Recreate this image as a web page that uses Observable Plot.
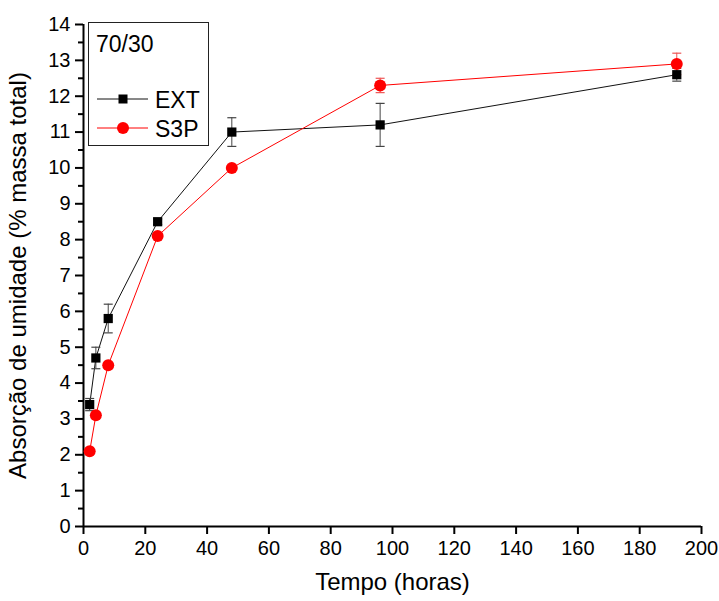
<!DOCTYPE html>
<html>
<head>
<meta charset="utf-8">
<script src="https://cdn.jsdelivr.net/npm/d3@7"></script>
<script src="https://cdn.jsdelivr.net/npm/@observablehq/plot@0.6"></script>
<style>
  body { margin: 0; background: #fff; }
  #wrap { position: relative; width: 719px; height: 601px; }
  #legend { position: absolute; left: 88px; top: 22px; }
</style>
</head>
<body>
<div id="wrap"></div>
<script>
const hours = [2, 4, 8, 24, 48, 96, 192];
const extValues = [3.4, 4.7, 5.8, 8.5, 11.0, 11.2, 12.6];
const extErrors = [0.17, 0.3, 0.4, 0.08, 0.4, 0.6, 0.18];
const s3pValues = [2.1, 3.1, 4.5, 8.1, 10.0, 12.3, 12.9];
const s3pErrors = [0.05, 0.05, 0.05, 0.05, 0.05, 0.2, 0.3];
const xTicks = [0, 20, 40, 60, 80, 100, 120, 140, 160, 180, 200];
const yTicks = [0, 1, 2, 3, 4, 5, 6, 7, 8, 9, 10, 11, 12, 13, 14];
const seriesNames = ["EXT", "S3P"];
const legendTitle = "70/30";
const xLabel = "Tempo (horas)";
const yLabel = "Absorção de umidade (% massa total)";

const ext = hours.map((h, i) => ({x: h, y: extValues[i], e: extErrors[i]}));
const s3p = hours.map((h, i) => ({x: h, y: s3pValues[i], e: s3pErrors[i]}));
const yMinor = d3.range(0.5, 14, 1);

const cap = { draw(ctx) { ctx.moveTo(-4.5, 0); ctx.lineTo(4.5, 0); } };
const font = "'Liberation Sans', Arial, sans-serif";

function errorMarks(data, color) {
  return [
    Plot.ruleX(data, {x: "x", y1: d => d.y - d.e, y2: d => d.y + d.e, stroke: color, strokeWidth: 1}),
    Plot.dot(data, {x: "x", y: d => d.y + d.e, symbol: cap, stroke: color, strokeWidth: 1.2, r: 3}),
    Plot.dot(data, {x: "x", y: d => d.y - d.e, symbol: cap, stroke: color, strokeWidth: 1.2, r: 3})
  ];
}

const chart = Plot.plot({
  width: 719,
  height: 601,
  marginLeft: 83,
  marginRight: 18,
  marginTop: 24,
  marginBottom: 75,
  style: {fontFamily: font, background: "#fff", color: "#000"},
  x: {domain: [0, 200]},
  y: {domain: [0, 14]},
  marks: [
    Plot.axisX({ticks: xTicks, tickSize: 8, tickPadding: 6, strokeWidth: 2, fontSize: 20,
      label: xLabel, labelAnchor: "center", labelOffset: 63, labelArrow: "none", tickFormat: d3.format("d")}),
    Plot.axisY({ticks: yTicks, tickSize: 8, tickPadding: 5, strokeWidth: 2, fontSize: 20,
      label: yLabel, labelAnchor: "center", labelOffset: 75, labelArrow: "none", tickFormat: d3.format("d")}),
    Plot.axisY({ticks: yMinor, tickSize: 5, strokeWidth: 2, text: null, label: null}),
    Plot.ruleX([0], {strokeWidth: 2}),
    Plot.ruleY([0], {strokeWidth: 2}),
    Plot.line(ext, {x: "x", y: "y", stroke: "#111", strokeWidth: 1}),
    Plot.line(s3p, {x: "x", y: "y", stroke: "#ff0000", strokeWidth: 1}),
    ...errorMarks(ext, "#444"),
    ...errorMarks(s3p, "#ee5555"),
    Plot.dot(ext, {x: "x", y: "y", symbol: "square", r: 5.2, fill: "#000"}),
    Plot.dot(s3p, {x: "x", y: "y", symbol: "circle", r: 6, fill: "#ff0000"})
  ]
});
chart.querySelectorAll("g[aria-label='x-axis label'], g[aria-label='y-axis label']").forEach(g => g.setAttribute("font-size", "24"));
chart.querySelectorAll("g[aria-label='x-axis label'] text, g[aria-label='y-axis label'] text").forEach(t => t.setAttribute("font-size", "24"));
document.getElementById("wrap").appendChild(chart);

// Legend overlay
const leg = document.createElement("div");
leg.id = "legend";
const svgNS = "http://www.w3.org/2000/svg";
const ls = document.createElementNS(svgNS, "svg");
ls.setAttribute("width", 122); ls.setAttribute("height", 125);
ls.style.fontFamily = font;
ls.innerHTML = `
  <rect x="0.5" y="0.5" width="120" height="123" fill="#fff" stroke="#222" stroke-width="1"/>
  <text x="8" y="30" font-size="23">${legendTitle}</text>
  <line x1="9" x2="60" y1="77" y2="77" stroke="#111" stroke-width="1"/>
  <rect x="30.5" y="72.5" width="9" height="9" fill="#000"/>
  <text x="67" y="86" font-size="23">${seriesNames[0]}</text>
  <line x1="9" x2="60" y1="106" y2="106" stroke="#ff0000" stroke-width="1"/>
  <circle cx="35" cy="106" r="6" fill="#ff0000"/>
  <text x="67" y="115" font-size="23">${seriesNames[1]}</text>`;
leg.appendChild(ls);
document.getElementById("wrap").appendChild(leg);
</script>
</body>
</html>
